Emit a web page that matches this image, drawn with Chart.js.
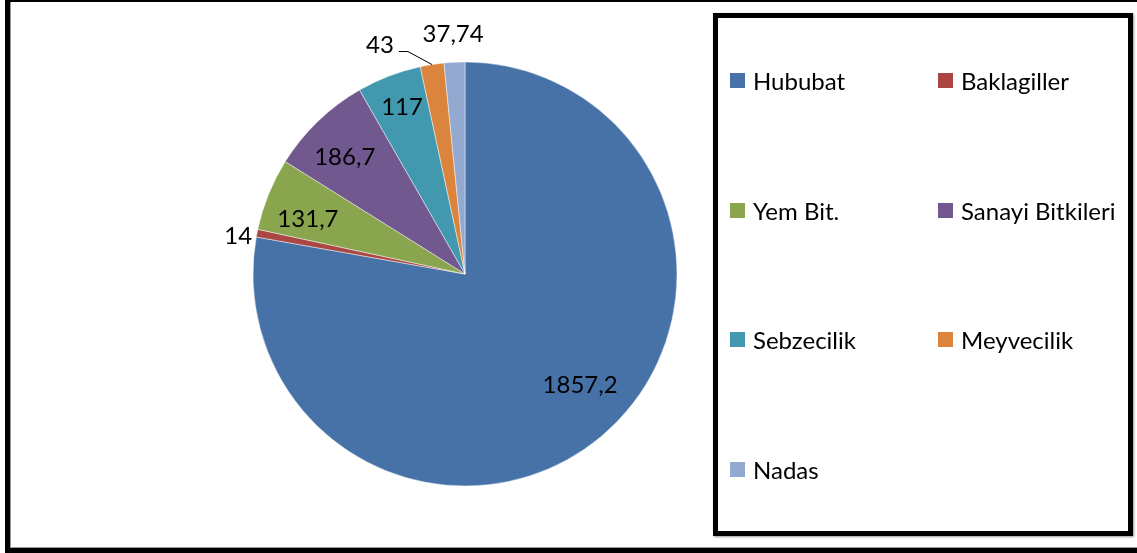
<!DOCTYPE html>
<html>
<head>
<meta charset="utf-8">
<script src="https://cdn.jsdelivr.net/npm/chart.js@4.4.1/dist/chart.umd.min.js"></script>
<style>
  html, body { margin: 0; padding: 0; background: #fff; }
  body { width: 1137px; height: 553px; position: relative; overflow: hidden; font-family: Lato, 'Liberation Sans', sans-serif; }
  .frame { position: absolute; left: 5px; top: -3px; right: -12px; bottom: 0; border: 5px solid #000; box-shadow: inset 1px -1px 0 #999; }
  .pieWrap { position: absolute; left: 205px; top: 4px; width: 520px; height: 540px; }
  .legendBox { position: absolute; left: 713px; top: 13px; width: 420px; height: 523px; box-sizing: border-box; border: 5px solid #000; box-shadow: 1px 1px 2px #999; }
  .legItem { position: absolute; display: flex; align-items: center; font-size: 24px; color: #000; white-space: nowrap; height: 30px; }
  .legItem span.box { width: 15px; height: 15px; margin-right: 8px; flex: none; }
</style>
</head>
<body>
<div class="frame"></div>
<div class="pieWrap"><canvas id="pie"></canvas></div>
<div class="legendBox" id="legend"></div>

<script>
// arazi kullanimi (bin da)
const categories = ['Hububat', 'Baklagiller', 'Yem Bit.', 'Sanayi Bitkileri', 'Sebzecilik', 'Meyvecilik', 'Nadas'];
const values = [1857.2, 14, 131.7, 186.7, 117, 43, 37.74];
const valueLabels = ['1857,2', '14', '131,7', '186,7', '117', '43', '37,74'];
const colors = ['#4672A8', '#AA4744', '#89A54E', '#71588F', '#4198AF', '#DB843D', '#94A9CF'];

// where each value label sits: angle shift from slice middle (deg) and radius factor
const labelPlacement = [
    { da: -6, r: 0.755 },
    { da: -1.6, r: 1.085 },
    { da: -2.8, r: 0.785 },
    { da: -2, r: 0.79 },
    { da: 0.3, r: 0.84 },
    { da: -11.5, r: 1.15, leader: true },
    { da: 0, r: 1.13 }
];

const valueLabelPlugin = {
    id: 'valueLabels',
    afterDatasetsDraw(chart) {
        const ctx = chart.ctx;
        const meta = chart.getDatasetMeta(0);
        ctx.save();
        ctx.font = '24px Lato, "Liberation Sans", sans-serif';
        ctx.fillStyle = '#000';
        ctx.textAlign = 'center';
        ctx.textBaseline = 'middle';
        meta.data.forEach((arc, i) => {
            const p = arc.getProps(['x', 'y', 'startAngle', 'endAngle', 'outerRadius'], true);
            const mid = (p.startAngle + p.endAngle) / 2;
            const place = labelPlacement[i];
            const a = mid + place.da * Math.PI / 180;
            const lx = p.x + Math.cos(a) * p.outerRadius * place.r;
            const ly = p.y + Math.sin(a) * p.outerRadius * place.r;
            if (place.leader) {
                ctx.strokeStyle = '#000';
                ctx.lineWidth = 1;
                ctx.beginPath();
                ctx.moveTo(p.x + Math.cos(mid) * p.outerRadius, p.y + Math.sin(mid) * p.outerRadius);
                ctx.lineTo(lx + 28, ly + 6);
                ctx.lineTo(lx + 19, ly + 6);
                ctx.stroke();
            }
            ctx.fillText(valueLabels[i], lx, ly);
        });
        ctx.restore();
    }
};

const chart = new Chart(document.getElementById('pie'), {
    type: 'pie',
    data: {
        labels: categories,
        datasets: [{
            data: values,
            backgroundColor: colors,
            borderColor: 'rgba(255,255,255,0.45)',
            borderWidth: 1
        }]
    },
    options: {
        responsive: true,
        maintainAspectRatio: false,
        animation: false,
        radius: 212,
        layout: { padding: 0 },
        plugins: {
            legend: { display: false },
            tooltip: { enabled: false }
        }
    },
    plugins: [valueLabelPlugin]
});

// legend built from the chart data, two columns
const legend = document.getElementById('legend');
chart.data.labels.forEach((name, i) => {
    const item = document.createElement('div');
    item.className = 'legItem';
    const col = i % 2;
    const row = Math.floor(i / 2);
    item.style.left = (col === 0 ? 12 : 220) + 'px';
    item.style.top = (80.5 + row * 129.5 - 13 - 20) + 'px';
    const box = document.createElement('span');
    box.className = 'box';
    box.style.background = chart.data.datasets[0].backgroundColor[i];
    const txt = document.createElement('span');
    txt.textContent = name;
    item.appendChild(box);
    item.appendChild(txt);
    legend.appendChild(item);
});
</script>
</body>
</html>
